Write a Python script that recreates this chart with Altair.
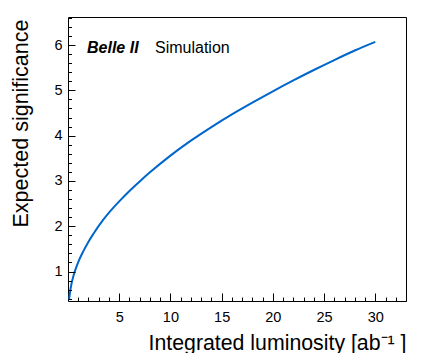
import altair as alt
import pandas as pd

# Data
lumi = [0.1, 0.25, 0.5, 0.75, 1, 1.5, 2, 2.5, 3, 4, 5, 6, 7, 8, 10, 12, 14, 16, 18, 20, 22, 24, 26, 28, 30]
signif = [0.38, 0.62, 0.88, 1.06, 1.21, 1.45, 1.66, 1.84, 2.01, 2.30, 2.55, 2.78, 2.99, 3.19, 3.56, 3.89,
          4.19, 4.47, 4.73, 4.98, 5.22, 5.45, 5.67, 5.88, 6.07]

x_major = [5, 10, 15, 20, 25, 30]
y_major = [1, 2, 3, 4, 5, 6]
x_minor = [i for i in range(1, 34)]
y_minor = [round(0.4 + 0.2 * i, 1) for i in range(32)]

df = pd.DataFrame({"L": lumi, "S": signif})

FONT = "Liberation Sans"
xs = alt.Scale(domain=[0, 33], nice=False, zero=False)
ys = alt.Scale(domain=[0.35, 6.62], nice=False, zero=False)

W, H = 338, 284

major = alt.Chart(df).mark_line(color="#0066cc", strokeWidth=2, interpolate="monotone", clip=True).encode(
    x=alt.X("L:Q", scale=xs, axis=alt.Axis(
        orient="bottom", values=x_major, offset=-8, tickSize=8, domain=False, grid=False,
        labelFontSize=14.5, labelFont=FONT, labelColor="black", labelBaseline="alphabetic",
        labelPadding=20, tickColor="black", zindex=1,
        title="Integrated luminosity [ab⁻¹ ]", titleFont=FONT, titleFontSize=21.3,
        titleFontWeight="normal", titleColor="black", titleAnchor="end", titleAlign="right",
        titleBaseline="alphabetic", titleX=W, titleY=56)),
    y=alt.Y("S:Q", scale=ys, axis=alt.Axis(
        orient="left", values=y_major, offset=-7, tickSize=7, domain=False, grid=False,
        labelFontSize=14.5, labelFont=FONT, labelColor="black", labelPadding=6,
        tickColor="black", zindex=1,
        title="Expected significance", titleFont=FONT, titleFontSize=21.5,
        titleFontWeight="normal", titleColor="black", titleAngle=-90, titleAlign="right",
        titleBaseline="alphabetic", titleX=-48, titleY=2)),
)

minor = alt.Chart(df).mark_line(strokeOpacity=0).encode(
    x=alt.X("L:Q", scale=xs, axis=alt.Axis(
        orient="bottom", values=x_minor, offset=-4, tickSize=4, domain=False, grid=False,
        labels=False, title=None, tickColor="black", zindex=1)),
    y=alt.Y("S:Q", scale=ys, axis=alt.Axis(
        orient="left", values=y_minor, offset=-3.5, tickSize=3.5, domain=False, grid=False,
        labels=False, title=None, tickColor="black", zindex=1)),
)

belle = alt.Chart(pd.DataFrame({"t": ["Belle II"]})).mark_text(
    align="left", baseline="alphabetic", font=FONT, fontSize=16, fontStyle="italic",
    fontWeight="bold", color="black").encode(
    x=alt.value(19), y=alt.value(36), text="t:N")

sim = alt.Chart(pd.DataFrame({"t": ["Simulation"]})).mark_text(
    align="left", baseline="alphabetic", font=FONT, fontSize=16, color="black").encode(
    x=alt.value(87), y=alt.value(36), text="t:N")

chart = alt.layer(major, minor, belle, sim).resolve_axis(
    x="independent", y="independent"
).properties(
    width=W, height=H, autosize="none",
    padding={"left": 60, "top": 9, "right": 10, "bottom": 52},
).configure_view(stroke="black", strokeWidth=1)

chart.save("out.html", embed_options={"renderer": "svg", "actions": False})
